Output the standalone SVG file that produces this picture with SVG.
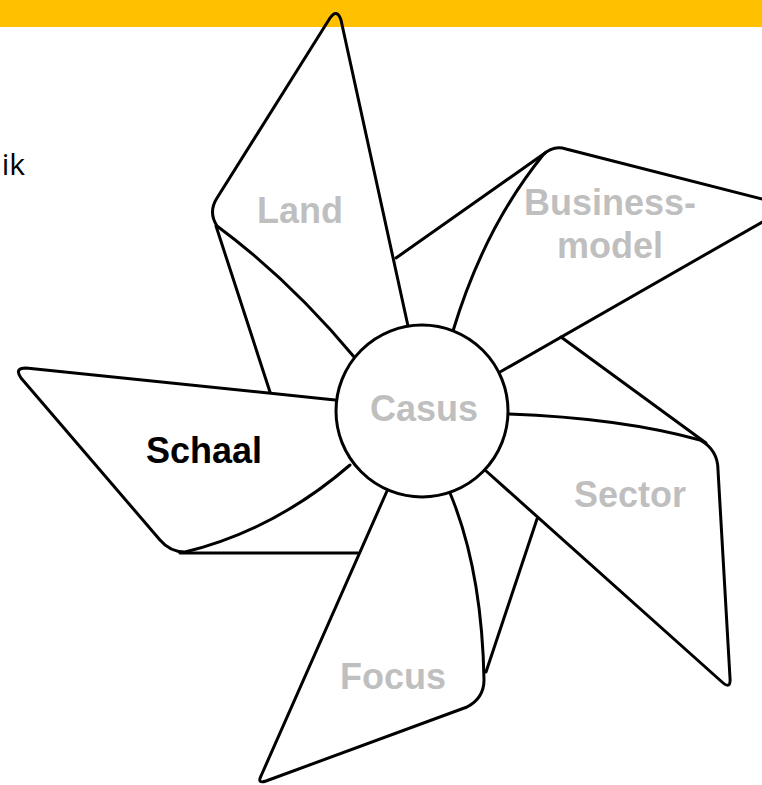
<svg xmlns="http://www.w3.org/2000/svg" width="762" height="785" viewBox="0 0 762 785">
<style>
.e{fill:none;stroke:#000;stroke-width:3;stroke-linejoin:round;stroke-linecap:round}
.g{font-family:"Liberation Sans",Arial,sans-serif;font-weight:bold;font-size:36px;fill:#BFBFBF;text-anchor:middle}
</style>
<rect x="0" y="0" width="762" height="27" fill="#FFC000"/>
<text x="25" y="175" font-family="'Open Sans','Liberation Sans',sans-serif" font-size="30" text-anchor="end" fill="#000">ik</text>
<g id="connectors">
<path class="e" d="M216,226 L270,392"/>
<path class="e" d="M545,153 L396,258"/>
<path class="e" d="M561,337 L706,443"/>
<path class="e" d="M486,672 L537,519"/>
<path class="e" d="M180,553 L358,553"/>
</g>
<g id="land">
<path class="e" d="M408,326 L341,20 Q337,8 330,18 L217,198 Q208,212 217,226 Q290,280 355,358"/>
<text class="g" x="300" y="223">Land</text>
</g>
<g id="businessmodel">
<path class="e" d="M453,331 Q484,228 543,155 Q553,145 566,149 L778,203 Q790,208 778,213 L500,372"/>
<text class="g" x="610" y="215">Business-</text>
<text class="g" x="610" y="258">model</text>
</g>
<g id="sector">
<path class="e" d="M509,414 Q620,418 700,440 Q718,450 718,470 L730,678 Q731,690 722,682 L485,470"/>
<text class="g" x="630" y="507">Sector</text>
</g>
<g id="focus">
<path class="e" d="M450,493 Q482,570 484,680 Q484,698 467,707 L266,781 Q257,784 261,776 L387,491"/>
<text class="g" x="393" y="689">Focus</text>
</g>
<g id="schaal">
<path class="e" d="M335,400 L26,368 Q14,368 21,378 L160,540 Q170,552 185,552 Q275,530 350,465"/>
<text class="g" x="204" y="463" style="fill:#000">Schaal</text>
</g>
<g id="casus">
<circle cx="422" cy="411" r="86" fill="#fff" stroke="#000" stroke-width="3"/>
<text class="g" x="424" y="421">Casus</text>
</g>
</svg>
